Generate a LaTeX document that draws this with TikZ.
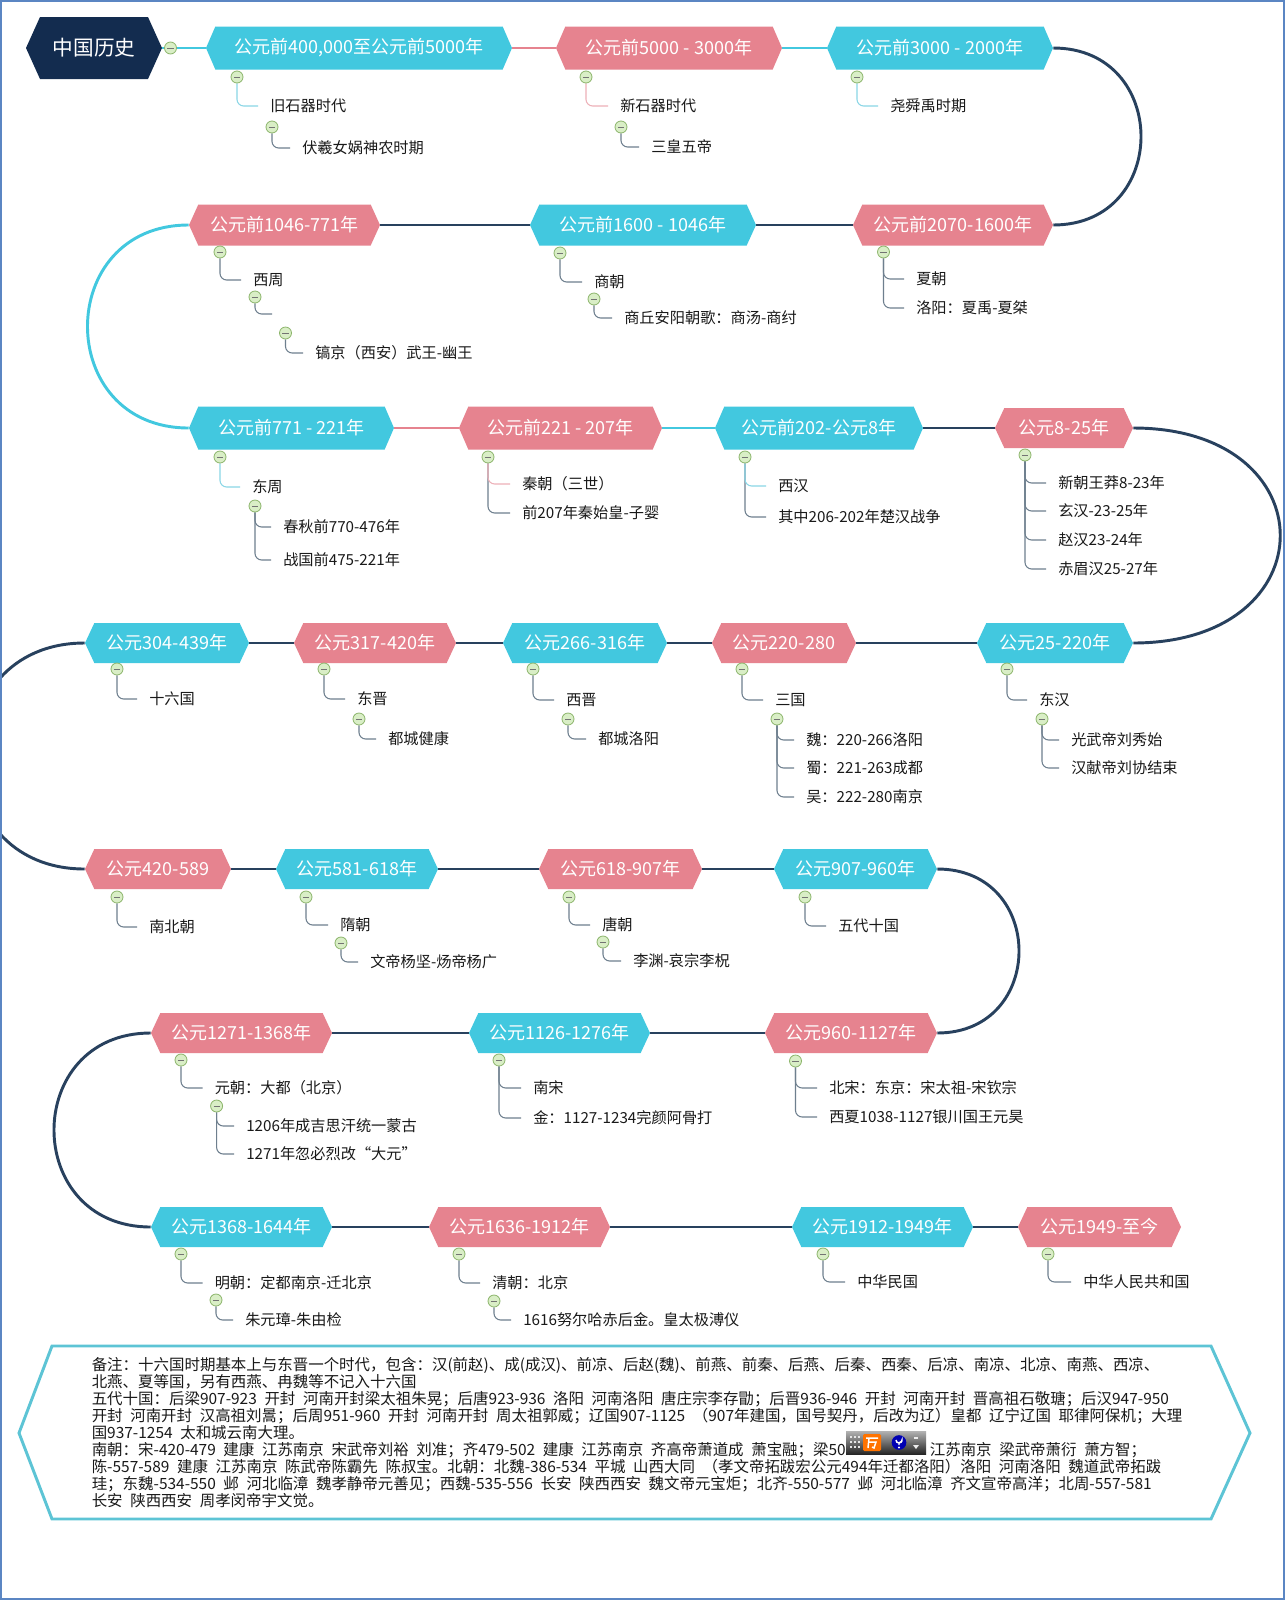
\documentclass[tikz,border=0pt]{standalone}
\usepackage{fontspec}
\setmainfont{Noto Sans CJK SC}
\newfontfamily\notefont[WordSpace=2.2]{Noto Sans CJK SC}
\usetikzlibrary{calc}
\pgfdeclarelayer{bg}
\pgfsetlayers{bg,main}
\definecolor{cyanT}{HTML}{42C8DF}
\definecolor{pinkT}{HTML}{E6838F}
\definecolor{navyT}{HTML}{132C4F}
\definecolor{lineN}{HTML}{28415E}
\definecolor{cyanL}{HTML}{8AD6E6}
\definecolor{pinkL}{HTML}{EDB0B8}
\definecolor{greyL}{HTML}{6E7F8E}
\definecolor{mfill}{HTML}{D9EEC6}
\definecolor{mdraw}{HTML}{8CB56B}
\definecolor{frameB}{HTML}{5B86C3}
\definecolor{noteB}{HTML}{5DC4D5}
\tikzset{
 hexbase/.style={rectangle, inner sep=0pt, text=white, font=\fontsize{13.5}{16}\selectfont},
 hexfill/.style 2 args={path picture={\fill[#1] (path picture bounding box.west) -- ([xshift=#2]path picture bounding box.north west) -- ([xshift=-#2]path picture bounding box.north east) -- (path picture bounding box.east) -- ([xshift=-#2]path picture bounding box.south east) -- ([xshift=#2]path picture bounding box.south west) -- cycle;}},
 cyanhex/.style={hexbase, hexfill={cyanT}{7pt}},
 pinkhex/.style={hexbase, hexfill={pinkT}{7pt}},
 roothex/.style={hexbase, hexfill={navyT}{10.5pt}, font=\fontsize{15.5}{18}\selectfont},
 mnc/.style={circle, minimum size=9pt, inner sep=0pt, fill=mfill, draw=mdraw, line width=0.6pt,
   path picture={\draw[black!55, line width=0.7pt] ([xshift=-2.3pt]path picture bounding box.center) -- ([xshift=2.3pt]path picture bounding box.center);}},
 ch/.style={anchor=west, inner xsep=9pt, inner ysep=1pt, font=\fontsize{11.4}{13}\selectfont, text=black!90},
 chl/.style={draw=greyL, line width=0.8pt, rounded corners=5pt},
 mline/.style={line width=2.2pt},
 notet/.style={anchor=north west, inner sep=0pt, align=left, font=\notefont\fontsize{11.6}{12.8}\selectfont, text=black!90},
}
\newcommand\hx[7]{\node[#6, minimum width={(#3-#2)*0.75pt}, minimum height={#5*0.75pt}] (#1) at ({(#2+#3)/2},#4) {#7};}
\newcommand\mk[3]{\node[mnc] (#1) at (#2,#3) {};}
\newcommand\ct[4]{\node[ch] (#1) at (#2-12,#3) {#4};}
\begin{document}
\begin{tikzpicture}[x=0.75pt,y=-0.75pt]
\useasboundingbox (0,0) rectangle (1285,1600);
% main topics
\hx{root}{26}{162}{48}{62}{roothex}{中国历史}
\hx{n1}{206}{512}{48}{43}{cyanhex}{公元前400,000至公元前5000年}
\hx{n2}{556}{782}{48}{43}{pinkhex}{公元前5000 - 3000年}
\hx{n3}{827}{1053}{48}{43}{cyanhex}{公元前3000 - 2000年}
\hx{n4}{853}{1053}{225}{41}{pinkhex}{公元前2070-1600年}
\hx{n5}{530}{756}{225}{41}{cyanhex}{公元前1600 - 1046年}
\hx{n6}{189}{380}{225}{41}{pinkhex}{公元前1046-771年}
\hx{n7}{189}{394}{428}{43}{cyanhex}{公元前771 - 221年}
\hx{n8}{459}{662}{428}{43}{pinkhex}{公元前221 - 207年}
\hx{n9}{715}{923}{428}{43}{cyanhex}{公元前202-公元8年}
\hx{n10}{995}{1133}{428}{40}{pinkhex}{公元8-25年}
\hx{n11}{977}{1133}{643}{40}{cyanhex}{公元25-220年}
\hx{n12}{712}{856}{643}{40}{pinkhex}{公元220-280}
\hx{n13}{503}{667}{643}{40}{cyanhex}{公元266-316年}
\hx{n14}{294}{456}{643}{40}{pinkhex}{公元317-420年}
\hx{n15}{85}{249}{643}{40}{cyanhex}{公元304-439年}
\hx{n16}{85}{231}{869}{40}{pinkhex}{公元420-589}
\hx{n17}{276}{438}{869}{40}{cyanhex}{公元581-618年}
\hx{n18}{539}{702}{869}{40}{pinkhex}{公元618-907年}
\hx{n19}{774}{937}{869}{40}{cyanhex}{公元907-960年}
\hx{n20}{765}{937}{1033}{40}{pinkhex}{公元960-1127年}
\hx{n21}{469}{650}{1033}{40}{cyanhex}{公元1126-1276年}
\hx{n22}{151}{332}{1033}{40}{pinkhex}{公元1271-1368年}
\hx{n23}{151}{332}{1227}{40}{cyanhex}{公元1368-1644年}
\hx{n24}{429}{610}{1227}{40}{pinkhex}{公元1636-1912年}
\hx{n25}{792}{973}{1227}{40}{cyanhex}{公元1912-1949年}
\hx{n26}{1018}{1181}{1227}{40}{pinkhex}{公元1949-至今}
\mk{rm}{170.5}{48}
% children
\mk{ma}{237}{77}
\ct{ca}{270}{106}{旧石器时代}
\mk{mas}{272}{127}
\ct{cas}{302}{148}{伏羲女娲神农时期}
\mk{mb}{586}{77}
\ct{cb}{620}{106}{新石器时代}
\mk{mbs}{621}{127}
\ct{cbs}{651}{147}{三皇五帝}
\mk{mc}{857}{77}
\ct{cc}{890}{106}{尧舜禹时期}
\mk{md}{883.5}{252}
\ct{cd1}{916}{279}{夏朝}
\ct{cd2}{916}{308}{洛阳：夏禹-夏桀}
\mk{me}{560}{253}
\ct{ce}{594}{282}{商朝}
\mk{mes}{594}{299}
\ct{ces}{624}{318}{商丘安阳朝歌：商汤-商纣}
\mk{mf}{220}{252}
\ct{cf}{253}{280}{西周}
\mk{mfs}{255}{297}
\ct{cfe}{284}{314}{}
\mk{mfss}{285.5}{333}
\ct{cfss}{315}{353}{镐京（西安）武王-幽王}
\mk{mg}{220}{457}
\ct{cg}{252}{487}{东周}
\mk{mgs}{255}{506}
\ct{cg1}{283}{527}{春秋前770-476年}
\ct{cg2}{283}{560}{战国前475-221年}
\mk{mh}{488}{457}
\ct{ch1}{522}{484}{秦朝（三世）}
\ct{ch2}{522}{513}{前207年秦始皇-子婴}
\mk{mi}{745}{457}
\ct{ci1}{778}{486}{西汉}
\ct{ci2}{778}{517}{其中206-202年楚汉战争}
\mk{mj}{1025}{455}
\ct{cj1}{1058}{483}{新朝王莽8-23年}
\ct{cj2}{1058}{511}{玄汉-23-25年}
\ct{cj3}{1058}{540}{赵汉23-24年}
\ct{cj4}{1058}{569}{赤眉汉25-27年}
\mk{mk}{1007}{669}
\ct{ck}{1039}{700}{东汉}
\mk{mks}{1042}{719}
\ct{ck1}{1071}{740}{光武帝刘秀始}
\ct{ck2}{1071}{768}{汉献帝刘协结束}
\mk{ml}{742}{669}
\ct{cl}{775}{700}{三国}
\mk{mls}{777}{719}
\ct{cl1}{806}{740}{魏：220-266洛阳}
\ct{cl2}{806}{768}{蜀：221-263成都}
\ct{cl3}{806}{797}{吴：222-280南京}
\mk{mm}{533}{669}
\ct{cm}{566}{700}{西晋}
\mk{mms}{568}{719}
\ct{cms}{598}{739}{都城洛阳}
\mk{mN}{324}{669}
\ct{cN}{357}{699}{东晋}
\mk{mNs}{359}{719}
\ct{cNs}{388}{739}{都城健康}
\mk{mo}{117}{669}
\ct{co}{149}{699}{十六国}
\mk{mp}{117}{897}
\ct{cp}{149}{927}{南北朝}
\mk{mq}{306}{897}
\ct{cq}{340}{925}{隋朝}
\mk{mqs}{341}{943}
\ct{cqs}{370}{962}{文帝杨坚-炀帝杨广}
\mk{mr}{569}{897}
\ct{cr}{602}{925}{唐朝}
\mk{mrs}{603}{942}
\ct{crs}{633}{961}{李渊-哀宗李柷}
\mk{ms}{805}{897}
\ct{cs}{838}{926}{五代十国}
\mk{mt}{795.5}{1061}
\ct{ct1}{829}{1088}{北宋：东京：宋太祖-宋钦宗}
\ct{ct2}{829}{1117}{西夏1038-1127银川国王元昊}
\mk{mu}{499}{1060}
\ct{cu1}{533}{1088}{南宋}
\ct{cu2}{533}{1118}{金：1127-1234完颜阿骨打}
\mk{mv}{181}{1060}
\ct{cv}{214.5}{1088}{元朝：大都（北京）}
\mk{mvs}{216.6}{1106}
\ct{cv1}{246}{1126}{1206年成吉思汗统一蒙古}
\ct{cv2}{246}{1154}{1271年忽必烈改“大元”}
\mk{mw}{181}{1254}
\ct{cw}{214.5}{1283}{明朝：定都南京-迁北京}
\mk{mws}{216}{1300}
\ct{cws}{245}{1320}{朱元璋-朱由检}
\mk{mx}{459}{1254}
\ct{cx}{492}{1283}{清朝：北京}
\mk{mxs}{494}{1301}
\ct{cxs}{523}{1320}{1616努尔哈赤后金。皇太极溥仪}
\mk{my}{823}{1254}
\ct{cy}{857}{1282}{中华民国}
\mk{mz}{1048}{1254}
\ct{cz}{1083}{1282}{中华人民共和国}
% connectors
\begin{pgfonlayer}{bg}
\fill[white] (0,0) rectangle (1285,1600);
\begin{scope}
\clip (0,0) rectangle (1285,1600);
\draw[mline, cyanT] (root.east) -- (n1.west);
\draw[mline, pinkT] (n1.east) -- (n2.west);
\draw[mline, cyanT] (n2.east) -- (n3.west);
\draw[mline, lineN] (n3.east) .. controls +(117,0) and +(117,0) .. (n4.east);
\draw[mline, lineN] (n4.west) -- (n5.east);
\draw[mline, lineN] (n5.west) -- (n6.east);
\draw[mline, cyanT] (n6.west) .. controls +(-135,0) and +(-135,0) .. (n7.west);
\draw[mline, pinkT] (n7.east) -- (n8.west);
\draw[mline, cyanT] (n8.east) -- (n9.west);
\draw[mline, lineN] (n9.east) -- (n10.west);
\draw[mline, lineN] (n10.east) .. controls +(196,0) and +(196,0) .. (n11.east);
\draw[mline, lineN] (n11.west) -- (n12.east);
\draw[mline, lineN] (n12.west) -- (n13.east);
\draw[mline, lineN] (n13.west) -- (n14.east);
\draw[mline, lineN] (n14.west) -- (n15.east);
\draw[mline, lineN] (n15.west) .. controls +(-151,0) and +(-151,0) .. (n16.west);
\draw[mline, lineN] (n16.east) -- (n17.west);
\draw[mline, lineN] (n17.east) -- (n18.west);
\draw[mline, lineN] (n18.east) -- (n19.west);
\draw[mline, lineN] (n19.east) .. controls +(109,0) and +(109,0) .. (n20.east);
\draw[mline, lineN] (n20.west) -- (n21.east);
\draw[mline, lineN] (n21.west) -- (n22.east);
\draw[mline, lineN] (n22.west) .. controls +(-129,0) and +(-129,0) .. (n23.west);
\draw[mline, lineN] (n23.east) -- (n24.west);
\draw[mline, lineN] (n24.east) -- (n25.west);
\draw[mline, lineN] (n25.east) -- (n26.west);
\end{scope}
\draw[chl] (mas.south) |- (cas.west);
\draw[chl] (mbs.south) |- (cbs.west);
\draw[chl] (md.south) |- (cd1.west);
\draw[chl] (md.south) |- (cd2.west);
\draw[chl] (me.south) |- (ce.west);
\draw[chl] (mes.south) |- (ces.west);
\draw[chl] (mf.south) |- (cf.west);
\draw[chl] (mfs.south) |- (cfe.west);
\draw[chl] (mfss.south) |- (cfss.west);
\draw[chl] (mgs.south) |- (cg1.west);
\draw[chl] (mgs.south) |- (cg2.west);
\draw[chl] (mh.south) |- (ch2.west);
\draw[chl] (mi.south) |- (ci2.west);
\foreach \c in {cj1,cj2,cj3,cj4} \draw[chl] (mj.south) |- (\c.west);
\draw[chl] (mk.south) |- (ck.west);
\draw[chl] (mks.south) |- (ck1.west);
\draw[chl] (mks.south) |- (ck2.west);
\draw[chl] (ml.south) |- (cl.west);
\foreach \c in {cl1,cl2,cl3} \draw[chl] (mls.south) |- (\c.west);
\draw[chl] (mm.south) |- (cm.west);
\draw[chl] (mms.south) |- (cms.west);
\draw[chl] (mN.south) |- (cN.west);
\draw[chl] (mNs.south) |- (cNs.west);
\draw[chl] (mo.south) |- (co.west);
\draw[chl] (mp.south) |- (cp.west);
\draw[chl] (mq.south) |- (cq.west);
\draw[chl] (mqs.south) |- (cqs.west);
\draw[chl] (mr.south) |- (cr.west);
\draw[chl] (mrs.south) |- (crs.west);
\draw[chl] (ms.south) |- (cs.west);
\draw[chl] (mt.south) |- (ct1.west);
\draw[chl] (mt.south) |- (ct2.west);
\draw[chl] (mu.south) |- (cu1.west);
\draw[chl] (mu.south) |- (cu2.west);
\draw[chl] (mv.south) |- (cv.west);
\draw[chl] (mvs.south) |- (cv1.west);
\draw[chl] (mvs.south) |- (cv2.west);
\draw[chl] (mw.south) |- (cw.west);
\draw[chl] (mws.south) |- (cws.west);
\draw[chl] (mx.south) |- (cx.west);
\draw[chl] (mxs.south) |- (cxs.west);
\draw[chl] (my.south) |- (cy.west);
\draw[chl] (mz.south) |- (cz.west);
\draw[chl, draw=cyanL] (ma.south) |- (ca.west);
\draw[chl, draw=pinkL] (mb.south) |- (cb.west);
\draw[chl, draw=cyanL] (mc.south) |- (cc.west);
\draw[chl, draw=cyanL] (mg.south) |- (cg.west);
\draw[chl, draw=pinkL] (mh.south) |- (ch1.west);
\draw[chl, draw=cyanL] (mi.south) |- (ci1.west);
\end{pgfonlayer}
% note
\draw[noteB, line width=2.2pt, fill=white, line join=miter] (19,1433) -- (52,1346) -- (1211,1346) -- (1250,1433) -- (1211,1519) -- (52,1519) -- cycle;
\node[notet] (note) at (91.5,1357) {备注：十六国时期基本上与东晋一个时代，包含：汉(前赵)、成(成汉)、前凉、后赵(魏)、前燕、前秦、后燕、后秦、西秦、后凉、南凉、北凉、南燕、西凉、\\
北燕、夏等国，另有西燕、冉魏等不记入十六国\\
五代十国：后梁907-923 开封 河南开封梁太祖朱晃；后唐923-936 洛阳 河南洛阳 唐庄宗李存勖；后晋936-946 开封 河南开封 晋高祖石敬瑭；后汉947-950\\
开封 河南开封 汉高祖刘暠；后周951-960 开封 河南开封 周太祖郭威；辽国907-1125 （907年建国，国号契丹，后改为辽）皇都 辽宁辽国 耶律阿保机；大理\\
国937-1254 太和城云南大理。\\
南朝：宋-420-479 建康 江苏南京 宋武帝刘裕 刘准；齐479-502 建康 江苏南京 齐高帝萧道成 萧宝融；梁50\hspace{63pt}江苏南京 梁武帝萧衍 萧方智；\\
陈-557-589 建康 江苏南京 陈武帝陈霸先 陈叔宝。北朝：北魏-386-534 平城 山西大同 （孝文帝拓跋宏公元494年迁都洛阳）洛阳 河南洛阳 魏道武帝拓跋\\
珪；东魏-534-550 邺 河北临漳 魏孝静帝元善见；西魏-535-556 长安 陕西西安 魏文帝元宝炬；北齐-550-577 邺 河北临漳 齐文宣帝高洋；北周-557-581\\
长安 陕西西安 周孝闵帝宇文觉。};
% IME toolbar overlay (icons drawn as shapes)
\fill[top color=gray!60, bottom color=gray!30!black] (846,1431) rectangle (926,1454);
\foreach \yy in {1436,1441,1446} \foreach \xx in {850,854,858} \fill[white!80!gray] (\xx,\yy) rectangle ++(2,2);
\fill[orange!90!red, rounded corners=1pt] (863,1434) rectangle (881,1451);
\draw[white, line width=1.1pt] (866,1438) -- (878,1438) (869,1438) -- (868,1448) (869,1442) -- (876,1442) -- (874,1448) -- (872,1447);
\fill[blue!70!black] (899,1442.5) circle (5.5pt);
\draw[white, line width=1.1pt] (896,1440) arc (180:0:3) -- (902,1441) -- (899,1443) -- (899,1445);
\fill[white] (899,1447.5) circle (0.8pt);
\fill[white!85!gray] (914,1437) rectangle (918,1439);
\fill[white!85!gray] (913,1445) -- (919,1445) -- (916,1449) -- cycle;
% frame
\draw[frameB, line width=1.5pt] (1.2,1.2) rectangle (1283.8,1598.8);
\end{tikzpicture}
\end{document}
